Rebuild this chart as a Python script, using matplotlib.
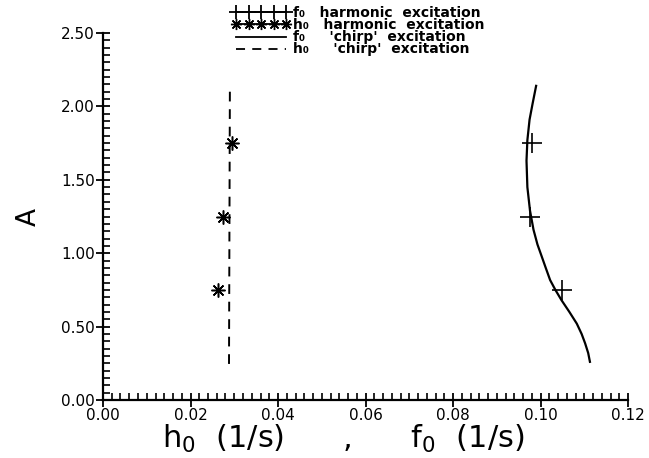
import matplotlib
matplotlib.use("Agg")
import matplotlib.pyplot as plt
from matplotlib.lines import Line2D
from matplotlib.ticker import MultipleLocator, FormatStrFormatter

# Data
A_harm = [1.75, 1.25, 0.75]
f0_harm = [0.0980, 0.0976, 0.1049]
h0_harm = [0.0294, 0.0274, 0.0263]

A_chirp = [2.14, 2.02, 1.91, 1.77, 1.63, 1.45, 1.29, 1.16, 1.06, 0.976, 0.90, 0.817, 0.75, 0.68, 0.60, 0.52, 0.45, 0.386, 0.32, 0.26]
f0_chirp = [0.0990, 0.0982, 0.0975, 0.0970, 0.0968, 0.0970, 0.0976, 0.0984, 0.0993, 0.1003, 0.1012, 0.1022, 0.1034, 0.1048, 0.1066, 0.1083, 0.1094, 0.1102, 0.1109, 0.1113]

A_h_chirp = [2.10, 0.24]
h0_chirp = [0.0290, 0.0288]

xticks = [0.00, 0.02, 0.04, 0.06, 0.08, 0.10, 0.12]
yticks = [0.00, 0.50, 1.00, 1.50, 2.00, 2.50]

labels = ["f\u2080   harmonic  excitation",
          "h\u2080   harmonic  excitation",
          "f\u2080     'chirp'  excitation",
          "h\u2080     'chirp'  excitation"]

plt.rcParams['font.family'] = ['DejaVu Sans']
fig = plt.figure(figsize=(6.49, 4.58), dpi=100)
ax = fig.add_axes([103/649, 1-400/458, 525/649, 367/458])

ast = (8, 2, 0)
ax.plot(f0_chirp, A_chirp, '-', color='black', lw=1.6)
ax.plot(h0_chirp, A_h_chirp, '--', color='black', lw=1.4, dashes=(5, 4))
ax.plot(f0_harm, A_harm, '+', color='black', ms=14, mew=1.2, ls='none')
ax.plot(h0_harm, A_harm, marker=ast, color='black', ms=10, mew=1.1, ls='none')

ax.set_xlim(0, 0.12)
ax.set_ylim(0, 2.5)
ax.set_xticks(xticks)
ax.set_yticks(yticks)
ax.xaxis.set_minor_locator(MultipleLocator(0.002))
ax.yaxis.set_minor_locator(MultipleLocator(0.05))
ax.xaxis.set_major_formatter(FormatStrFormatter('%.2f'))
ax.yaxis.set_major_formatter(FormatStrFormatter('%.2f'))
for s in ['top', 'right']:
    ax.spines[s].set_visible(False)
for s in ['left', 'bottom']:
    ax.spines[s].set_linewidth(1.6)
ax.tick_params(which='major', direction='inout', length=10, width=1.3, labelsize=11, pad=1)
ax.tick_params(which='minor', direction='in', length=5, width=1.2)

ax.set_xlabel("h$_0$  (1/s)      ,      f$_0$  (1/s)", fontsize=22)
ax.xaxis.set_label_coords(0.457, -0.062)
ax.xaxis.label.set_verticalalignment('top')
ax.set_ylabel("A", fontsize=19, labelpad=14)

handles = [
    Line2D([], [], color='black', lw=1.3, marker='+', ms=10, mew=1.3),
    Line2D([], [], color='black', lw=1.3, marker=ast, ms=8, mew=1.0),
    Line2D([], [], color='black', lw=1.3),
    Line2D([], [], color='black', lw=1.3, ls='--', dashes=(5, 4)),
]
leg = fig.legend(handles, labels, loc='upper left', bbox_to_anchor=(0.345, 1.006),
                 numpoints=5, frameon=False, fontsize=10, labelspacing=-0.13,
                 handlelength=4.2, handletextpad=0.15, borderpad=0.1, handleheight=0.5)
for t in leg.get_texts():
    t.set_fontweight('bold')

fig.savefig("out.png", dpi=100)
